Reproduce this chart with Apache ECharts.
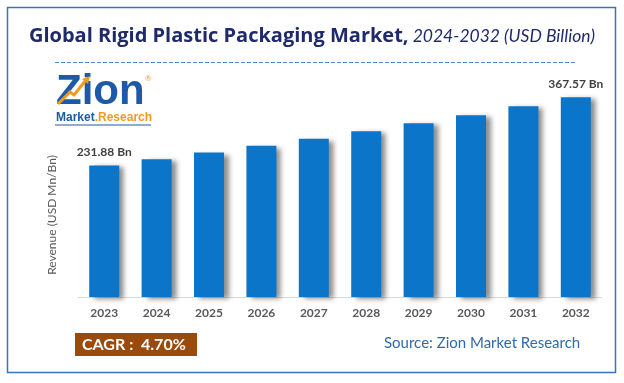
<!DOCTYPE html>
<html>
<head>
<meta charset="utf-8">
<script src="https://cdn.jsdelivr.net/npm/echarts@6/dist/echarts.min.js"></script>
<style>
html,body{margin:0;padding:0;background:#fff;}
#chart{width:624px;height:383px;}
</style>
</head>
<body>
<div id="chart"></div>
<script>
var categories = ['2023','2024','2025','2026','2027','2028','2029','2030','2031','2032'];
var revenue = [231.88, 242.6, 254.5, 266.6, 278.7, 292.1, 306.0, 320.2, 336.0, 352.0];
var valueLabels = ['231.88 Bn','','','','','','','','','367.57 Bn'];
var titleMain = 'Global Rigid Plastic Packaging Market,';
var titleSub = ' 2024-2032 (USD Billion)';
var yAxisName = 'Revenue (USD Mn/Bn)';
var cagrText = 'CAGR :  4.70%';
var sourceText = 'Source: Zion Market Research';

var FONT = 'Lato, "Open Sans", sans-serif';
var chart = echarts.init(document.getElementById('chart'), null, {renderer:'canvas'});
chart.setOption({
  backgroundColor: '#ffffff',
  animation: false,
  grid: {left: 78, right: 22, top: 70, bottom: 86},
  xAxis: {
    type: 'category',
    data: categories,
    axisLine: {show: true, lineStyle: {color: '#d9d9d9', width: 1}},
    axisTick: {show: false},
    axisLabel: {color: '#595959', fontSize: 12, fontWeight: 'bold', fontFamily: FONT, margin: 10}
  },
  yAxis: {
    type: 'value', min: 0, max: 400,
    axisLine: {show: false}, axisTick: {show: false},
    axisLabel: {show: false}, splitLine: {show: false}
  },
  series: [{
    type: 'bar',
    data: revenue,
    barWidth: 30,
    itemStyle: {
      color: '#0b76c9',
      shadowColor: 'rgba(0,0,0,0.45)',
      shadowBlur: 5,
      shadowOffsetX: 5,
      shadowOffsetY: 2
    },
    label: {
      show: true,
      position: 'top',
      distance: 7,
      color: '#404040',
      fontSize: 12,
      fontWeight: 'bold',
      fontFamily: FONT,
      formatter: function (p) { return valueLabels[p.dataIndex]; }
    }
  }],
  graphic: [
    {type: 'rect', shape: {x: 7.5, y: 7.5, width: 608, height: 365},
     style: {fill: 'none', stroke: '#3d72b4', lineWidth: 1.5}, silent: true},
    {type: 'text', x: 312, y: 36,
     style: {
       text: '{a|' + titleMain + '}{b|' + titleSub + '}',
       align: 'center', verticalAlign: 'middle',
       rich: {
         a: {fontSize: 20, fontWeight: 'bold', fontFamily: '"Open Sans", Lato, sans-serif', fill: '#1f2a6b'},
         b: {fontSize: 17.5, fontStyle: 'italic', fontFamily: FONT, fill: '#1f2a6b'}
       }
     }},
    {type: 'line', shape: {x1: 55, y1: 62.5, x2: 577, y2: 62.5},
     style: {stroke: '#4f86cf', lineWidth: 1, lineDash: [4, 2]}},
    /* logo */
    {type: 'text', x: 56, y: 92,
     style: {text: 'Zion', fontSize: 42, fontWeight: 'bold', fontFamily: '"Liberation Sans", Arial, sans-serif',
             fill: '#1c5aa8', verticalAlign: 'middle'}},
    {type: 'polyline', shape: {points: [[58, 104], [70, 92], [74, 95], [86, 80]]},
     style: {stroke: '#f39a1e', lineWidth: 3, fill: 'none'}},
    {type: 'polygon', shape: {points: [[82, 79], [90, 76], [88, 84]]},
     style: {fill: '#f39a1e'}},
    {type: 'text', x: 145, y: 78,
     style: {text: '®', fontSize: 8, fill: '#f39a1e', fontFamily: FONT, verticalAlign: 'middle'}},
    {type: 'text', x: 56, y: 118,
     style: {text: '{m|Market}{r|.Research}', verticalAlign: 'middle',
             rich: {m: {fontSize: 12, fontWeight: 'bold', fill: '#1c5aa8', fontFamily: '"Liberation Sans", Arial, sans-serif'},
                    r: {fontSize: 12, fontWeight: 'bold', fill: '#f39a1e', fontFamily: '"Liberation Sans", Arial, sans-serif'}}}},
    {type: 'line', shape: {x1: 55, y1: 125, x2: 151, y2: 125},
     style: {stroke: '#1c5aa8', lineWidth: 1}},
    /* y axis name */
    {type: 'text', x: 52, y: 215, rotation: Math.PI / 2,
     style: {text: yAxisName, fontSize: 12, fill: '#595959', fontFamily: FONT,
             align: 'center', verticalAlign: 'middle'}},
    /* CAGR box */
    {type: 'rect', shape: {x: 75, y: 333, width: 122, height: 23},
     style: {fill: '#9a4a0b'}},
    {type: 'text', x: 82, y: 345,
     style: {text: cagrText, fontSize: 16, fontWeight: 'bold', fill: '#ffffff', fontFamily: FONT,
             verticalAlign: 'middle'}},
    {type: 'text', x: 384, y: 343,
     style: {text: sourceText, fontSize: 15, fill: '#2f6aad', fontFamily: FONT, verticalAlign: 'middle'}}
  ]
});
</script>
</body>
</html>
